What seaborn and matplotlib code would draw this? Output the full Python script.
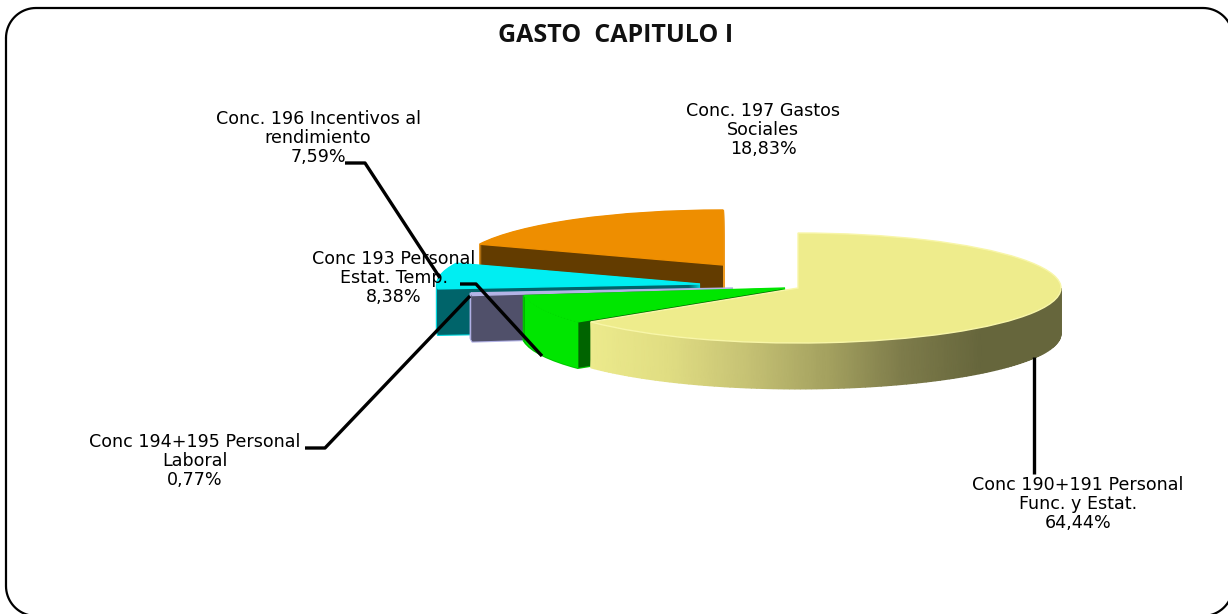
import numpy as np
import seaborn as sns
import matplotlib.pyplot as plt

sns.set_style('white')
plt.rcParams['font.family'] = ['DejaVu Sans']

categories = ['Conc 190+191 Personal\nFunc. y Estat.',
              'Conc 193 Personal\nEstat. Temp.',
              'Conc 194+195 Personal\nLaboral',
              'Conc. 196 Incentivos al\nrendimiento',
              'Conc. 197 Gastos\nSociales']
values = [64.44, 8.38, 0.77, 7.59, 18.83]

# layout, in pixels of the picture
W, H = 1228, 614
RX, RY, DEPTH = 263, 55, 46
SQUASH = RY / RX
centers = [(798, 288), (785, 288), (733, 288), (700, 284), (723, 265)]
top_colors = ['#eeec8c', '#00e600', '#b4b4e6', '#00eef2', '#ee8e00']
body_colors = [None, '#006400', '#50506a', '#00646a', '#633c00']
halo_colors = [None, '#00c800', '#b0b0e4', '#00d8de', '#ee9a20']
label_pos = [(1078, 504), (394, 278), (195, 461), (318, 138), (763, 130)]
leaders = [[(1034, 357), (1034, 474)],
           [(460, 284), (476, 284), (542, 356)],
           [(305, 448), (325, 448), (470, 296)],
           [(345, 163), (365, 163), (440, 278)]]

yellow_cmap = sns.blend_palette(['#ecea8c', '#e0dd82', '#c6c274', '#a5a260',
                                 '#7d7b4a', '#66663c', '#66663c'], as_cmap=True)

fig = plt.figure(figsize=(W / 100, H / 100), dpi=100)
ax = fig.add_axes([0, 0, 1, 1])


def to_data(py):
    return (H - py) / SQUASH


def wedge(value, start, cx, py, color, edge='none', lw=0):
    ax.pie([value, sum(values) - value], startangle=start, counterclock=False,
           center=(cx, to_data(py)), radius=RX, colors=[color, 'none'],
           wedgeprops={'edgecolor': edge, 'linewidth': lw})
    # the invisible rest of the pie must stay invisible
    ax.patches[-1].set_visible(False)


starts = 90 - 360 * np.cumsum([0] + values[:-1]) / sum(values)

for i in range(len(values) - 1, -1, -1):
    value, start = values[i], starts[i]
    cx, py = centers[i]
    end = start - 360 * value / sum(values)
    if body_colors[i]:
        for d in range(DEPTH, 0, -1):
            wedge(value, start, cx, py + d, halo_colors[i], halo_colors[i], 1.6)
        for d in range(DEPTH, 0, -1):
            wedge(value, start, cx, py + d, body_colors[i])
    if i == 1:
        # outer wall of the green slice is bright, its cut face is dark
        ang = np.radians(np.linspace(end, start, 40))
        arc_x = cx + RX * np.cos(ang)
        arc_y = to_data(py) + RX * np.sin(ang)
        ax.fill_between(arc_x, arc_y, arc_y - DEPTH / SQUASH, color='#00e600', lw=0)
    if i == 0:
        ang = np.radians(np.linspace(end, 0, 120))
        arc_x = cx + RX * np.cos(ang)
        arc_y = to_data(py) + RX * np.sin(ang)
        X = np.vstack([arc_x, arc_x])
        Y = np.vstack([arc_y, arc_y - DEPTH / SQUASH])
        ax.pcolormesh(X, Y, X, cmap=yellow_cmap, shading='gouraud',
                      vmin=arc_x.min(), vmax=arc_x.max())
    wedge(value, start, cx, py, top_colors[i],
          '#f8f6a8' if i == 0 else top_colors[i], 1.0)

ax.set_aspect('auto')
ax.set_xlim(0, W)
ax.set_ylim(0, H / SQUASH)
ax.axis('off')

# overlay in pixel units for frame, title, leaders and labels
over = fig.add_axes([0, 0, 1, 1])
over.set_xlim(0, W)
over.set_ylim(H, 0)
over.patch.set_alpha(0)
over.axis('off')

# the frame runs off the right and bottom of the picture, only corners show there
corner_r = 30
frame_x, frame_y = [], []
for ccx, ccy, a0 in [(36, 38, 180), (1203, 38, 270), (1203, 586, 0), (36, 586, 90)]:
    t = np.radians(np.linspace(a0, a0 + 90, 20))
    frame_x.extend(ccx + corner_r * np.cos(t))
    frame_y.extend(ccy + corner_r * np.sin(t))
frame_x.append(frame_x[0])
frame_y.append(frame_y[0])
over.plot(frame_x, frame_y, color='black', lw=1.6, clip_on=False)

over.text(616, 36, 'GASTO  CAPITULO I', ha='center', va='center', fontsize=18,
          fontweight='bold', family='Open Sans', color='#111111')

for path in leaders:
    pts = np.array(path)
    over.plot(pts[:, 0], pts[:, 1], color='black', lw=2.4, solid_capstyle='butt')

for name, value, (x, y) in zip(categories, values, label_pos):
    pct = f'{value:.2f}'.replace('.', ',') + '%'
    over.text(x, y, f'{name}\n{pct}', ha='center', va='center', fontsize=12.6,
              linespacing=1.08, color='black')

over.set_xlim(0, W)
over.set_ylim(H, 0)
plt.savefig('out.png', dpi=100)
